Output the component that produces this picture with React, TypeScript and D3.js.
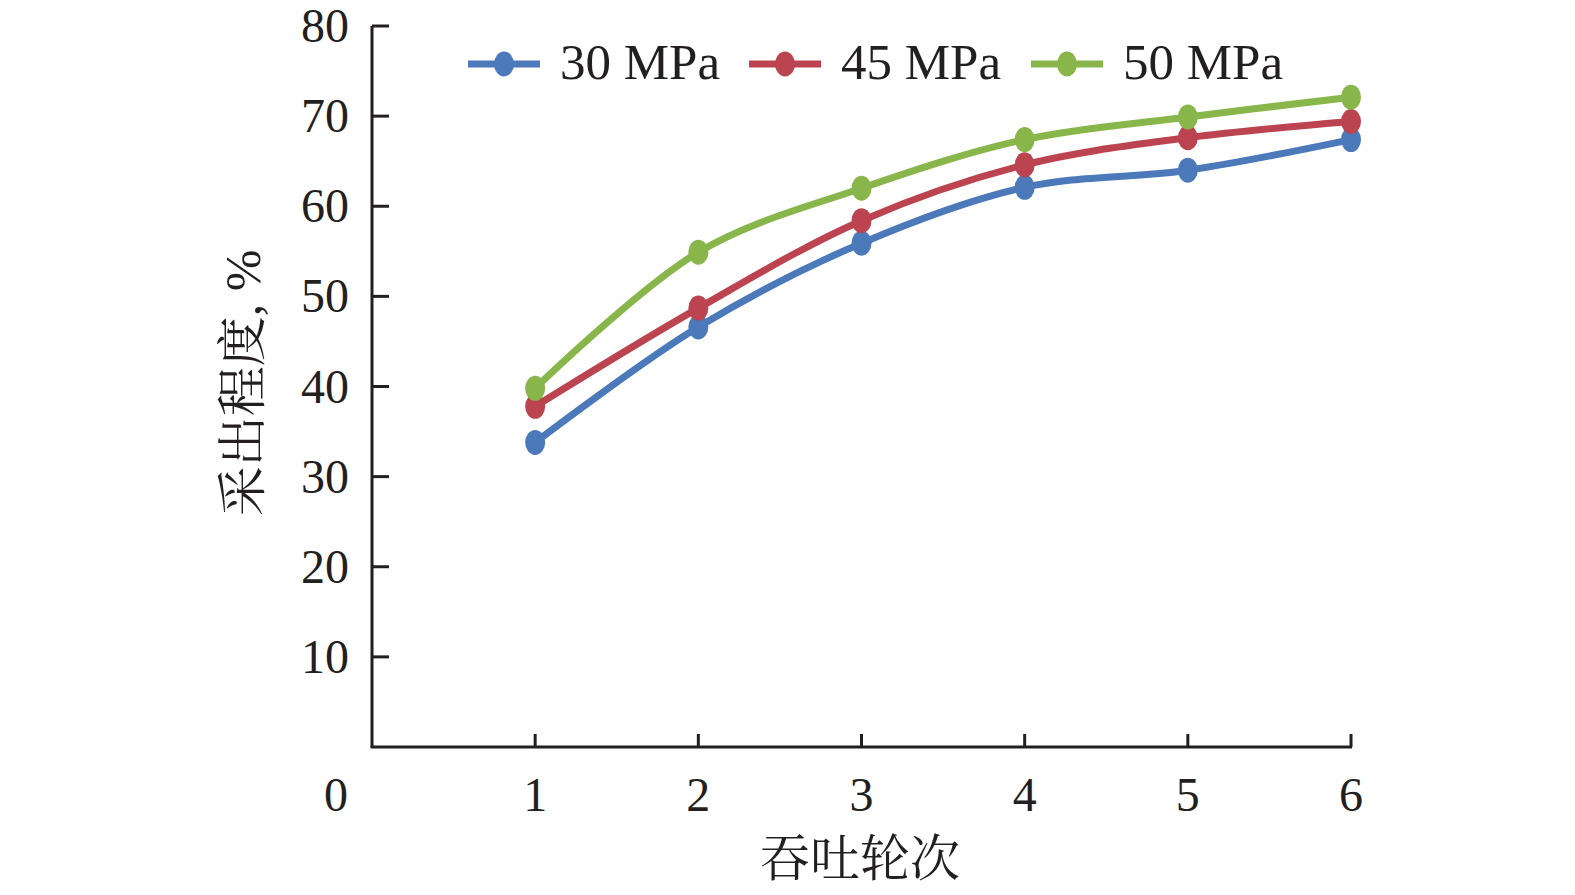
import React from "react";
import * as d3 from "d3";

const cycles = [1, 2, 3, 4, 5, 6];
const series30 = [33.8, 46.6, 55.9, 62.1, 64.0, 67.4];
const series45 = [37.8, 48.7, 58.4, 64.6, 67.6, 69.4];
const series50 = [39.8, 54.9, 62.0, 67.4, 69.9, 72.1];
const seriesNames = ["30 MPa", "45 MPa", "50 MPa"];
const seriesColors = ["#4c79b9", "#bc4450", "#89b64b"];
const yTicks = [10, 20, 30, 40, 50, 60, 70, 80];
const xTicks = [1, 2, 3, 4, 5, 6];

const W = 1575;
const H = 895;
const serif = "'Liberation Serif', 'Times New Roman', serif";
const cjk = "'Noto Serif CJK SC', 'Noto Sans CJK SC', serif";

export default function App() {
  const x = d3.scaleLinear().domain([0, 6]).range([372, 1351]);
  const y = d3.scaleLinear().domain([0, 80]).range([747, 26]);
  const allSeries = [series30, series45, series50];
  const line = d3
    .line<number>()
    .x((_, i) => x(cycles[i]))
    .y((d) => y(d))
    .curve(d3.curveCatmullRom.alpha(0.5));

  const legendX = [468, 749, 1031];

  return (
    <svg
      width={W}
      height={H}
      style={{ position: "absolute", left: 0, top: 0, background: "#fff" }}
    >
      {/* axes */}
      <line x1={x(0)} x2={x(0)} y1={y(80)} y2={y(0)} stroke="#231f20" strokeWidth={3} />
      <line x1={x(0) - 1.5} x2={x(6) + 1} y1={y(0)} y2={y(0)} stroke="#231f20" strokeWidth={3} />
      {yTicks.map((t) => (
        <g key={"y" + t}>
          <line x1={x(0)} x2={x(0) + 17} y1={y(t)} y2={y(t)} stroke="#231f20" strokeWidth={3} />
          <text
            x={349}
            y={y(t) + 16}
            textAnchor="end"
            fontFamily={serif}
            fontSize={48}
            fill="#231f20"
          >
            {t}
          </text>
        </g>
      ))}
      <text x={336} y={811} textAnchor="middle" fontFamily={serif} fontSize={48} fill="#231f20">
        0
      </text>
      {xTicks.map((t) => (
        <g key={"x" + t}>
          <line x1={x(t)} x2={x(t)} y1={y(0)} y2={y(0) - 13} stroke="#231f20" strokeWidth={3} />
          <text
            x={x(t)}
            y={811}
            textAnchor="middle"
            fontFamily={serif}
            fontSize={48}
            fill="#231f20"
          >
            {t}
          </text>
        </g>
      ))}
      <text x={860} y={876} textAnchor="middle" fontFamily={cjk} fontSize={50} fill="#231f20">
        吞吐轮次
      </text>
      <text
        transform={`translate(260, 383) rotate(-90)`}
        textAnchor="middle"
        fontFamily={cjk}
        fontSize={50}
        fill="#231f20"
      >
        采出程度<tspan fontFamily={serif}>, %</tspan>
      </text>

      {/* series */}
      {allSeries.map((s, si) => (
        <g key={"s" + si}>
          <path d={line(s) || ""} fill="none" stroke={seriesColors[si]} strokeWidth={7} />
          {s.map((v, i) => (
            <ellipse
              key={i}
              cx={x(cycles[i])}
              cy={y(v)}
              rx={10}
              ry={12.5}
              fill={seriesColors[si]}
            />
          ))}
        </g>
      ))}

      {/* legend */}
      {seriesNames.map((n, i) => (
        <g key={"l" + i}>
          <line
            x1={legendX[i]}
            x2={legendX[i] + 72}
            y1={64}
            y2={64}
            stroke={seriesColors[i]}
            strokeWidth={7}
          />
          <ellipse cx={legendX[i] + 36} cy={64} rx={10} ry={12.5} fill={seriesColors[i]} />
          <text
            x={legendX[i] + 92}
            y={79}
            fontFamily={serif}
            fontSize={51}
            fill="#231f20"
          >
            {n}
          </text>
        </g>
      ))}
    </svg>
  );
}
